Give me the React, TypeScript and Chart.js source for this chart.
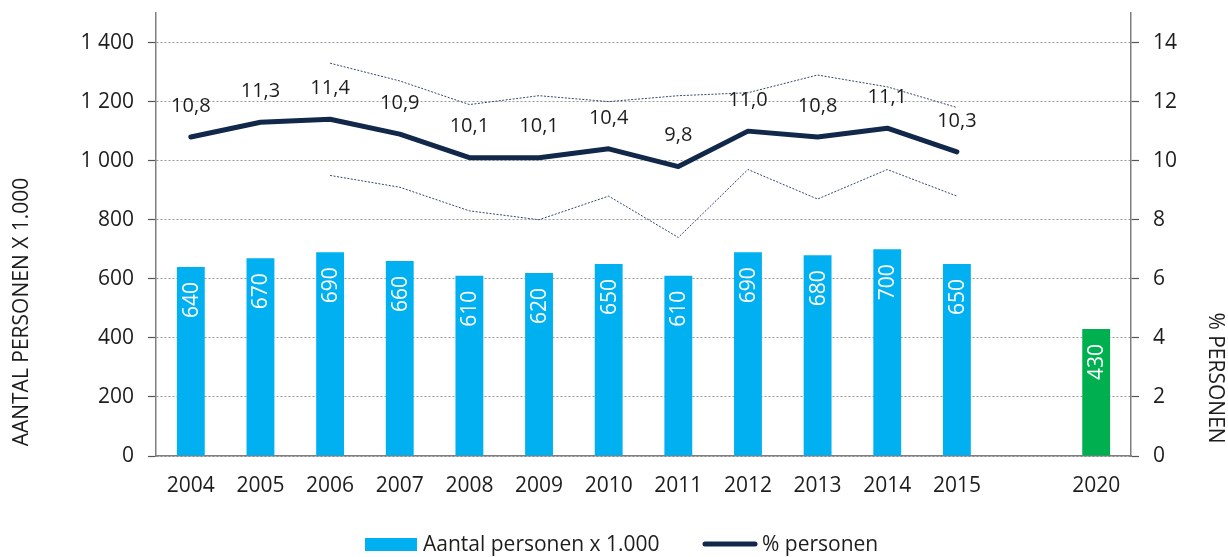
import React, { useEffect, useRef } from 'react';
import { Chart, registerables } from 'chart.js';

Chart.register(...registerables);

const categories = ['2004', '2005', '2006', '2007', '2008', '2009', '2010', '2011', '2012', '2013', '2014', '2015', '', '2020'];
const aantalPersonen = [640, 670, 690, 660, 610, 620, 650, 610, 690, 680, 700, 650, null, 430];
const percentPersonen = [10.8, 11.3, 11.4, 10.9, 10.1, 10.1, 10.4, 9.8, 11.0, 10.8, 11.1, 10.3, null, null];
const upperBound = [null, null, 13.3, 12.7, 11.9, 12.2, 12.0, 12.2, 12.3, 12.9, 12.5, 11.8, null, null];
const lowerBound = [null, null, 9.5, 9.1, 8.3, 8.0, 8.8, 7.4, 9.7, 8.7, 9.7, 8.8, null, null];
const leftTicks = [0, 200, 400, 600, 800, 1000, 1200, 1400];
const rightTicks = [0, 2, 4, 6, 8, 10, 12, 14];
const targetCategory = '2020';

const FONT = "'Open Sans', sans-serif";
const TEXT = '#1d1d1b';
const BLUE = '#00b0f0';
const GREEN = '#00b050';
const NAVY = '#12284a';
const THIN = '#34476a';
const AXIS = '#7f7f7f';

const fmtThousands = (v: number) => String(v).replace(/\B(?=(\d{3})+(?!\d))/g, ' ');
const fmtPct = (v: number) => v.toFixed(1).replace('.', ',');

const labelsPlugin = {
  id: 'customLabels',
  afterDatasetsDraw(chart: any) {
    const ctx = chart.ctx;
    const barMeta = chart.getDatasetMeta(0);
    barMeta.data.forEach((el: any, i: number) => {
      const v = aantalPersonen[i];
      if (v == null) return;
      ctx.save();
      ctx.translate(el.x, el.y + 15);
      ctx.rotate(-Math.PI / 2);
      ctx.font = `21px ${FONT}`;
      ctx.fillStyle = '#ffffff';
      ctx.textAlign = 'right';
      ctx.textBaseline = 'middle';
      ctx.fillText(String(v), 0, 1);
      ctx.restore();
    });
    const lineMeta = chart.getDatasetMeta(3);
    lineMeta.data.forEach((el: any, i: number) => {
      const v = percentPersonen[i];
      if (v == null) return;
      ctx.save();
      ctx.font = `20px ${FONT}`;
      ctx.fillStyle = TEXT;
      ctx.textAlign = 'center';
      ctx.textBaseline = 'middle';
      ctx.fillText(fmtPct(v), el.x, el.y - 31);
      ctx.restore();
    });
  },
  afterDraw(chart: any) {
    const ctx = chart.ctx;
    ctx.save();
    ctx.fillStyle = TEXT;
    ctx.font = `21px ${FONT}`;
    ctx.textAlign = 'center';
    ctx.textBaseline = 'middle';
    ctx.save();
    ctx.translate(22, 312);
    ctx.rotate(-Math.PI / 2);
    ctx.fillText('AANTAL PERSONEN X 1.000', 0, 0);
    ctx.restore();
    ctx.save();
    ctx.translate(1215, 378);
    ctx.rotate(Math.PI / 2);
    ctx.fillText('% PERSONEN', 0, 0);
    ctx.restore();
    ctx.textAlign = 'left';
    ctx.textBaseline = 'alphabetic';
    ctx.font = `21px ${FONT}`;
    ctx.fillStyle = BLUE;
    ctx.fillRect(365, 538, 52, 13);
    ctx.fillStyle = TEXT;
    ctx.fillText('Aantal personen x 1.000', 423, 551);
    ctx.strokeStyle = NAVY;
    ctx.lineWidth = 5;
    ctx.lineCap = 'round';
    ctx.beginPath();
    ctx.moveTo(705, 544);
    ctx.lineTo(755, 544);
    ctx.stroke();
    ctx.fillText('% personen', 762, 551);
    ctx.restore();
  },
};

export default function App() {
  const ref = useRef<HTMLCanvasElement>(null);
  useEffect(() => {
    document.body.style.margin = '0';
    Chart.defaults.font.family = FONT;
    Chart.defaults.color = TEXT;
    const chart = new Chart(ref.current!, {
      type: 'bar',
      data: {
        labels: categories,
        datasets: [
          {
            type: 'bar',
            label: 'Aantal personen x 1.000',
            data: aantalPersonen,
            backgroundColor: categories.map((c) => (c === targetCategory ? GREEN : BLUE)),
            barPercentage: 0.8,
            categoryPercentage: 0.5,
            yAxisID: 'y',
            order: 4,
          },
          {
            type: 'line',
            label: 'upper',
            data: upperBound,
            borderColor: THIN,
            borderWidth: 1,
            borderDash: [2, 1.5],
            pointRadius: 0,
            tension: 0,
            yAxisID: 'y1',
            order: 3,
          },
          {
            type: 'line',
            label: 'lower',
            data: lowerBound,
            borderColor: THIN,
            borderWidth: 1,
            borderDash: [2, 1.5],
            pointRadius: 0,
            tension: 0,
            yAxisID: 'y1',
            order: 2,
          },
          {
            type: 'line',
            label: '% personen',
            data: percentPersonen,
            borderColor: NAVY,
            borderWidth: 5,
            borderCapStyle: 'round',
            borderJoinStyle: 'round',
            pointRadius: 0,
            tension: 0,
            yAxisID: 'y1',
            order: 1,
          },
        ],
      } as any,
      options: {
        animation: false,
        responsive: false,
        layout: { padding: { top: 13, left: 0, right: 0, bottom: 0 } },
        plugins: {
          legend: { display: false },
          tooltip: { enabled: false },
          title: { display: false },
        },
        scales: {
          x: {
            offset: true,
            grid: { display: false, drawTicks: false },
            border: { display: true, color: AXIS, width: 1.5 },
            ticks: { font: { size: 21, family: FONT }, color: TEXT, padding: 17, autoSkip: false, maxRotation: 0 },
            afterFit: (s: any) => { s.height = 101; s.paddingLeft = 0; s.paddingRight = 0; },
          },
          y: {
            position: 'left',
            min: 0,
            max: 1500,
            afterBuildTicks: (axis: any) => { axis.ticks = leftTicks.map((v) => ({ value: v })); },
            ticks: {
              font: { size: 21, family: FONT },
              color: TEXT,
              padding: 14,
              callback: (v: any) => fmtThousands(Number(v)),
            },
            grid: {
              color: '#9a9a9a',
              lineWidth: 1,
              tickColor: '#555555',
              tickLength: 8,
              tickBorderDash: [],
              tickWidth: 1.2,
            },
            border: { display: true, color: AXIS, width: 1.5, dash: [2, 2] },
            afterFit: (s: any) => { s.width = 156; s.paddingTop = 0; s.paddingBottom = 0; },
          },
          y1: {
            position: 'right',
            min: 0,
            max: 15,
            afterBuildTicks: (axis: any) => { axis.ticks = rightTicks.map((v) => ({ value: v })); },
            ticks: { font: { size: 21, family: FONT }, color: TEXT, padding: 14 },
            grid: {
              drawOnChartArea: false,
              drawTicks: true,
              tickLength: 8,
              tickColor: '#555555',
              tickWidth: 1.2,
            },
            border: { display: true, color: AXIS, width: 1.5 },
            afterFit: (s: any) => { s.width = 97; s.paddingTop = 0; s.paddingBottom = 0; },
          },
        },
      } as any,
      plugins: [labelsPlugin],
    });
    return () => chart.destroy();
  }, []);
  return (
    <div style={{ width: 1228, height: 557, background: '#fff' }}>
      <canvas ref={ref} width={1228} height={557} />
    </div>
  );
}
